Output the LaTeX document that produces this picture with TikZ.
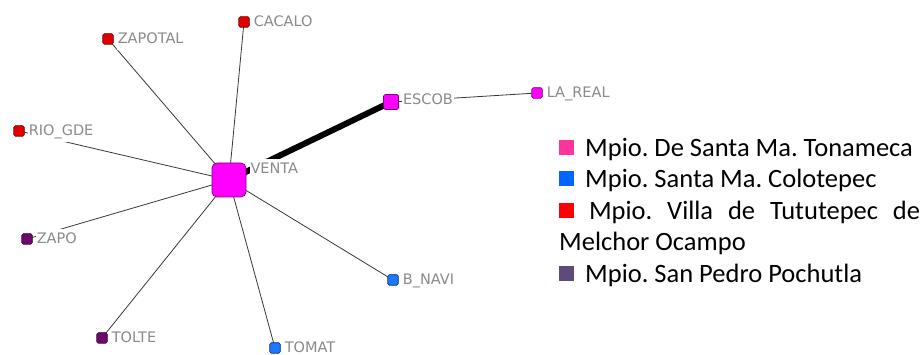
\documentclass[tikz,border=0pt]{standalone}
\usepackage{fontspec}
\newfontfamily\lblfont{DejaVu Sans}
\newfontfamily\legfont{Carlito}
\usetikzlibrary{calc,backgrounds}
\definecolor{magnode}{HTML}{FF00FF}
\definecolor{magline}{HTML}{800080}
\definecolor{tutunode}{HTML}{E00000}
\definecolor{tutuline}{HTML}{700000}
\definecolor{pochnode}{HTML}{6A0A6A}
\definecolor{pochline}{HTML}{3A003A}
\definecolor{colonode}{HTML}{1E78FF}
\definecolor{cololine}{HTML}{002A70}
\definecolor{lblgray}{HTML}{8A8A8A}
\definecolor{edgegray}{HTML}{383838}
\definecolor{legpink}{HTML}{FF3399}
\definecolor{legblue}{HTML}{0066FF}
\definecolor{legred}{HTML}{FF0000}
\definecolor{legpurple}{HTML}{604A7B}
\newcommand{\legsq}[1]{\textcolor{#1}{\rule[1.5pt]{15pt}{15pt}}}

\tikzset{
	vert/.style={draw, line width=0.7pt, rounded corners=1.5pt, minimum size=10.5pt, inner sep=0pt},
	hub/.style={vert, fill=magnode, draw=magline, minimum size=34pt, rounded corners=5pt},
	mag/.style={vert, fill=magnode, draw=magline},
	tutu/.style={vert, fill=tutunode, draw=tutuline},
	poch/.style={vert, fill=pochnode, draw=pochline},
	colo/.style={vert, fill=colonode, draw=cololine},
	lbl/.style={font=\lblfont\fontsize{14.5}{14.5}\selectfont, text=lblgray, fill=white, inner xsep=1pt, inner ysep=4pt, text height=10.5pt, text depth=2.5pt, anchor=base west},
	tie/.style={draw=edgegray, line width=0.8pt},
	legend/.style={font=\legfont\fontsize{26.5}{26.5}\selectfont\frenchspacing, anchor=base west, inner sep=0pt}
}

\begin{document}
\begin{tikzpicture}[x=1pt,y=-1pt]
	\useasboundingbox (0,0) rectangle (924,355);
	% vertices
	\node[hub] (venta) at (229,180) {};
	\node[mag, minimum size=15pt] (escob) at (391,102) {};
	\node[mag] (lareal) at (537,93) {};
	\node[tutu] (cacalo) at (244,22) {};
	\node[tutu] (zapotal) at (108,39) {};
	\node[tutu] (riogde) at (19,131) {};
	\node[poch] (zapo) at (27,239) {};
	\node[poch] (tolte) at (102,338) {};
	\node[colo] (tomat) at (275,348) {};
	\node[colo] (bnavi) at (393,280) {};
	% ties
	\begin{scope}[on background layer]
		\draw[line width=6pt] (venta.center) -- (escob.center);
		\draw[tie] (escob.center) -- (lareal.center);
		\draw[tie] (venta.center) -- (cacalo.center);
		\draw[tie] (venta.center) -- (zapotal.center);
		\draw[tie] (venta.center) -- (riogde.center);
		\draw[tie] (venta.center) -- (zapo.center);
		\draw[tie] (venta.center) -- (tolte.center);
		\draw[tie] (venta.center) -- (tomat.center);
		\draw[tie] (venta.center) -- (bnavi.center);
	\end{scope}
	% names
	\node[lbl] (venta-l) at ($(venta.north east)+(3,10.5)$) {VENTA};
	\node[lbl] (escob-l) at ($(escob.north east)+(3,10.5)$) {ESCOB};
	\node[lbl] (lareal-l) at ($(lareal.north east)+(3,10.5)$) {LA\_REAL};
	\node[lbl] (cacalo-l) at ($(cacalo.north east)+(3,10.5)$) {CACALO};
	\node[lbl] (zapotal-l) at ($(zapotal.north east)+(3,10.5)$) {ZAPOTAL};
	\node[lbl] (riogde-l) at ($(riogde.north east)+(3,10.5)$) {RIO\_GDE};
	\node[lbl] (zapo-l) at ($(zapo.north east)+(3,10.5)$) {ZAPO};
	\node[lbl] (tolte-l) at ($(tolte.north east)+(3,10.5)$) {TOLTE};
	\node[lbl, text depth=0pt, inner ysep=1pt] (tomat-l) at ($(tomat.north east)+(3,10.5)$) {TOMAT};
	\node[lbl] (bnavi-l) at ($(bnavi.north east)+(3,10.5)$) {B\_NAVI};
	% legend
	\node[legend] (leg1) at (559,157) {\legsq{legpink}\hspace{11pt}Mpio. De Santa Ma. Tonameca};
	\node[legend] (leg2) at (559,188) {\legsq{legblue}\hspace{11pt}Mpio. Santa Ma. Colotepec};
	\node[legend] (leg3) at (559,220) {\makebox[361pt][s]{\legsq{legred} Mpio. Villa de Tututepec de}};
	\node[legend] (leg4) at (559,251) {Melchor Ocampo};
	\node[legend] (leg5) at (559,283) {\legsq{legpurple}\hspace{11pt}Mpio. San Pedro Pochutla};
\end{tikzpicture}
\end{document}
